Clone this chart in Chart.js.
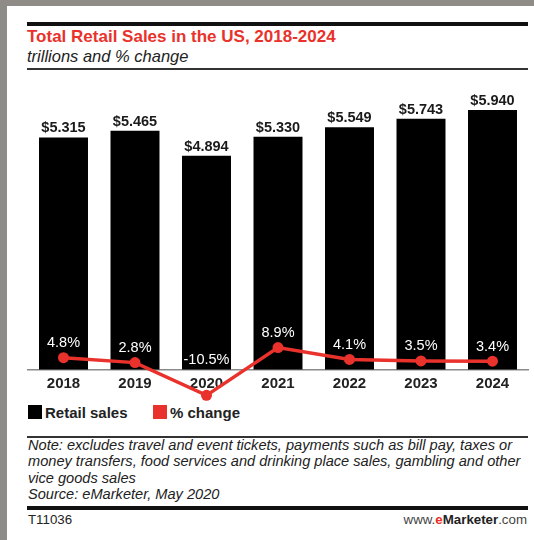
<!DOCTYPE html>
<html>
<head>
<meta charset="utf-8">
<script src="https://cdn.jsdelivr.net/npm/chart.js@4/dist/chart.umd.min.js"></script>
<style>
  html, body { margin: 0; padding: 0; }
  body {
    width: 534px; height: 540px; position: relative; overflow: hidden;
    background: #8f8b87;
    font-family: "Liberation Sans", Arial, Helvetica, sans-serif;
  }
  #panel { position: absolute; left: 7px; top: 6px; right: 0; bottom: 0; background: #fff; }
  .rule { position: absolute; left: 27px; width: 501px; }
  .txt { position: absolute; white-space: nowrap; }
  #title { left: 27px; top: 27px; font-size: 17px; line-height: 20px; font-weight: bold; color: #e8322b; }
  #subtitle { left: 27px; top: 46px; font-size: 16.5px; line-height: 20px; font-style: italic; color: #222; }
  #note { left: 28px; top: 437px; font-size: 14.6px; line-height: 16.3px; font-style: italic; color: #222; }
  #code { left: 28px; top: 512px; font-size: 13.3px; line-height: 16px; color: #222; }
  #site { right: 7px; top: 512px; font-size: 13.3px; line-height: 16px; color: #444; }
  #site b { color: #222; }
  #site .e { color: #e8322b; }
  .legend { position: absolute; top: 405px; height: 15px; font-size: 15px; line-height: 15px; font-weight: bold; color: #222; }
  .legend i { display: inline-block; width: 14px; height: 14px; vertical-align: top; margin-right: 3px; }
  #chart { position: absolute; left: 0; top: 0; z-index: 2; }
</style>
</head>
<body>
<div id="panel"></div>
<div class="rule" style="top:22px;height:4px;background:#111;"></div>
<div class="txt" id="title">Total Retail Sales in the US, 2018-2024</div>
<div class="txt" id="subtitle">trillions and % change</div>
<div class="rule" style="top:68px;height:1.5px;background:#333;"></div>

<div class="legend" style="left:28px;"><i style="background:#000;"></i>Retail sales</div>
<div class="legend" style="left:153px;"><i style="background:#e8322b;"></i>% change</div>

<div class="rule" style="top:436px;height:1.5px;background:#333;"></div>
<div class="txt" id="note">Note: excludes travel and event tickets, payments such as bill pay, taxes or<br>money transfers, food services and drinking place sales, gambling and other<br>vice goods sales<br>Source: eMarketer, May 2020</div>
<div class="rule" style="top:506px;height:4px;background:#111;"></div>
<div class="txt" id="code">T11036</div>
<div class="txt" id="site">www.<b class="e">e</b><b>Marketer</b>.com</div>

<canvas id="chart" width="534" height="540"></canvas>

<script>
// Yearly figures
const years = ['2018', '2019', '2020', '2021', '2022', '2023', '2024'];
const retailSales = [5.315, 5.465, 4.894, 5.330, 5.549, 5.743, 5.940]; // trillions of dollars
const pctChange = [4.8, 2.8, -10.5, 8.9, 4.1, 3.5, 3.4];                // % change

const RED = '#e8322b';
const FONT = '"Liberation Sans", Arial, Helvetica, sans-serif';

// Dollar labels above the bars and white % labels above the line points
const valueLabels = {
  id: 'valueLabels',
  afterDatasetsDraw(chart) {
    const ctx = chart.ctx;
    const bars = chart.getDatasetMeta(0).data;
    const points = chart.getDatasetMeta(1).data;
    const zeroY = chart.scales.y.getPixelForValue(0);
    ctx.save();
    ctx.textAlign = 'center';
    ctx.textBaseline = 'alphabetic';

    ctx.font = 'bold 14.5px ' + FONT;
    ctx.fillStyle = '#1a1a1a';
    bars.forEach((bar, i) => {
      ctx.fillText('$' + retailSales[i].toFixed(3), bar.x, bar.y - 5);
    });

    ctx.font = '14.5px ' + FONT;
    ctx.fillStyle = '#ffffff';
    points.forEach((pt, i) => {
      const v = pctChange[i];
      const y = v < 0 ? zeroY - 6 : pt.y - 10.5;
      ctx.fillText(v.toFixed(1) + '%', pt.x, y);
    });
    ctx.restore();
  }
};

new Chart(document.getElementById('chart'), {
  data: {
    labels: years,
    datasets: [
      {
        type: 'bar',
        label: 'Retail sales',
        data: retailSales,
        yAxisID: 'y',
        backgroundColor: '#000000',
        barPercentage: 0.685,
        categoryPercentage: 1.0,
        order: 2
      },
      {
        type: 'line',
        label: '% change',
        data: pctChange,
        yAxisID: 'y2',
        borderColor: RED,
        backgroundColor: RED,
        borderWidth: 3.5,
        pointRadius: 5.5,
        pointBorderWidth: 0,
        pointBackgroundColor: RED,
        tension: 0,
        order: 1
      }
    ]
  },
  options: {
    responsive: false,
    animation: false,
    devicePixelRatio: 1,
    layout: { padding: { left: 27.75, right: 5.75, top: 90, bottom: 139 } },
    plugins: { legend: { display: false }, tooltip: { enabled: false } },
    scales: {
      x: {
        position: { y: 0 },
        grid: { display: true, drawOnChartArea: false, drawTicks: false },
        border: { display: true, color: '#8a8a8a', width: 1.5 },
        ticks: {
          color: '#222',
          padding: 5,
          maxRotation: 0,
          font: { family: FONT, size: 15, weight: 'bold' }
        }
      },
      y: { display: false, min: -0.72, max: 6.4 },
      y2: { display: false, min: -12.8, max: 113.6 }
    }
  },
  plugins: [valueLabels]
});
</script>
</body>
</html>
